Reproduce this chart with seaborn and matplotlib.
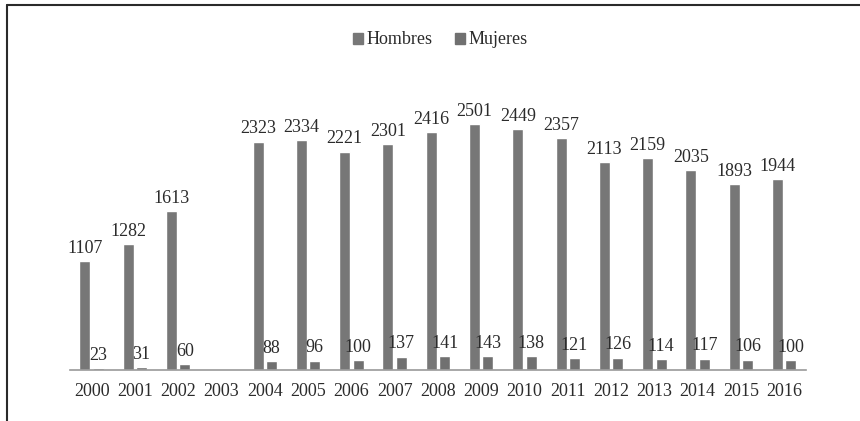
import numpy as np
import pandas as pd
import matplotlib
matplotlib.use("Agg")
import matplotlib.pyplot as plt
from matplotlib.lines import Line2D
import seaborn as sns

years = ["2000", "2001", "2002", "2003", "2004", "2005", "2006", "2007", "2008",
         "2009", "2010", "2011", "2012", "2013", "2014", "2015", "2016"]
hombres = [1107, 1282, 1613, np.nan, 2323, 2334, 2221, 2301, 2416,
           2501, 2449, 2357, 2113, 2159, 2035, 1893, 1944]
mujeres = [23, 31, 60, np.nan, 88, 96, 100, 137, 141,
           143, 138, 121, 126, 114, 117, 106, 100]
series = ["Hombres", "Mujeres"]

df = pd.DataFrame({
    "year": years * 2,
    "sexo": [series[0]] * len(years) + [series[1]] * len(years),
    "valor": hombres + mujeres,
})

sns.set_theme(style="white")
plt.rcParams["font.family"] = ["Liberation Serif", "DejaVu Serif"]

fig = plt.figure(figsize=(8.6, 4.21), dpi=100)
ax = fig.add_axes([0.0814, 0.121, 0.8556, 0.701])

bar_colors = {"Hombres": "#777777", "Mujeres": "#707070"}
sns.barplot(data=df, x="year", y="valor", hue="sexo", order=years,
            hue_order=series, palette=bar_colors, width=0.62, gap=0.18,
            saturation=1, legend=False, ax=ax)

for cont in ax.containers:
    ax.bar_label(cont, fmt=lambda v: "" if np.isnan(v) else f"{v:.0f}",
                 padding=3, fontsize=13, color="#2b2b2b")

ax.set_ylim(0, 3000)
ax.set_xlim(-0.5, len(years) - 0.5)
ax.set_xlabel("")
ax.set_ylabel("")
ax.set_yticks([])
ax.tick_params(axis="x", length=0, labelsize=13, labelcolor="#2b2b2b", pad=9)
for side in ("top", "right", "left"):
    ax.spines[side].set_visible(False)
ax.spines["bottom"].set_color("#9a9a9a")
ax.spines["bottom"].set_linewidth(1.2)

handles = [plt.Rectangle((0, 0), 1, 1, color=bar_colors[s]) for s in series]
fig.legend(handles, series, loc="center", bbox_to_anchor=(0.512, 0.905), ncol=2,
           frameon=False, fontsize=13, handlelength=0.55, handleheight=0.55,
           handletextpad=0.2, columnspacing=1.2, labelcolor="#2b2b2b")

# outer frame: top and left edges
fig.add_artist(Line2D([0.008, 1.0], [0.988, 0.988], transform=fig.transFigure,
                      color="#2a2a2a", lw=1.5))
fig.add_artist(Line2D([0.008, 0.008], [0.0, 0.988], transform=fig.transFigure,
                      color="#2a2a2a", lw=1.5))

fig.savefig("out.png", dpi=100)
